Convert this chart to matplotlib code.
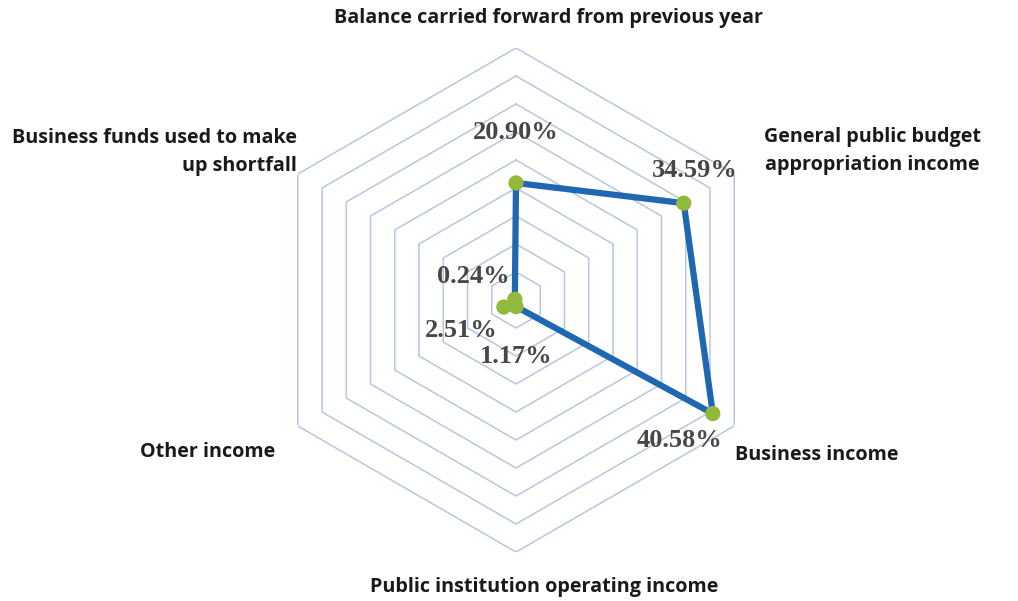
import numpy as np
import matplotlib
matplotlib.use("Agg")
import matplotlib.pyplot as plt

categories = ["Balance carried forward from previous year",
              "General public budget\nappropriation income",
              "Business income",
              "Public institution operating income",
              "Other income",
              "Business funds used to make\nup shortfall"]
values = [20.90, 34.59, 40.58, 1.17, 2.51, 0.24]
value_labels = ["20.90%", "34.59%", "40.58%", "1.17%", "2.51%", "0.24%"]
ring_levels = [5, 10, 15, 20, 25, 30, 35, 40, 45]

W, H, DPI = 1018, 601, 100
fig = plt.figure(figsize=(W / DPI, H / DPI), dpi=DPI)
cx, cy, R = 516, 300, 252
ax = fig.add_axes([(cx - R) / W, (H - cy - R) / H, 2 * R / W, 2 * R / H], projection="polar")
ax.set_theta_zero_location("N")
ax.set_theta_direction(-1)
ax.set_ylim(0, ring_levels[-1])
ax.set_xticks([])
ax.set_yticks([])
ax.grid(False)
ax.spines["polar"].set_visible(False)
ax.patch.set_alpha(0)

n = len(categories)
angles = np.linspace(0, 2 * np.pi, n, endpoint=False)
closed = np.concatenate([angles, angles[:1]])

for lv in ring_levels:
    ax.plot(closed, [lv] * (n + 1), color="#b6c7e0", lw=1.1, zorder=1)

vals = np.array(values + values[:1])
ax.plot(closed, vals, color="#1f67b1", lw=4.5, zorder=3, solid_joinstyle="round")
ax.scatter(angles, values, s=120, color="#92b83c", zorder=4, edgecolors="none")

offsets = [(0, 50), (11, 33), (-33, -27), (0, -50), (-43, -23), (-42, 23)]
for a, v, lab, off in zip(angles, values, value_labels, offsets):
    ax.annotate(lab, (a, v), xytext=off, textcoords="offset pixels",
                ha="center", va="center", fontsize=19, fontweight="bold",
                family="Liberation Serif", color="#474747", zorder=5)

cat_pos = [(549, 18, "center"), (872, 151, "center"), (735, 455, "left"),
           (544, 587, "center"), (275, 452, "right"), (297, 152, "right")]
for lab, (x, y, ha) in zip(categories, cat_pos):
    fig.text(x / W, 1 - y / H, lab, ha=ha, va="center", multialignment=ha,
             fontsize=14.2, fontweight="bold", family="Open Sans", color="#1a1a1a", linespacing=1.55)

fig.savefig("out.png", dpi=DPI, facecolor="white")
